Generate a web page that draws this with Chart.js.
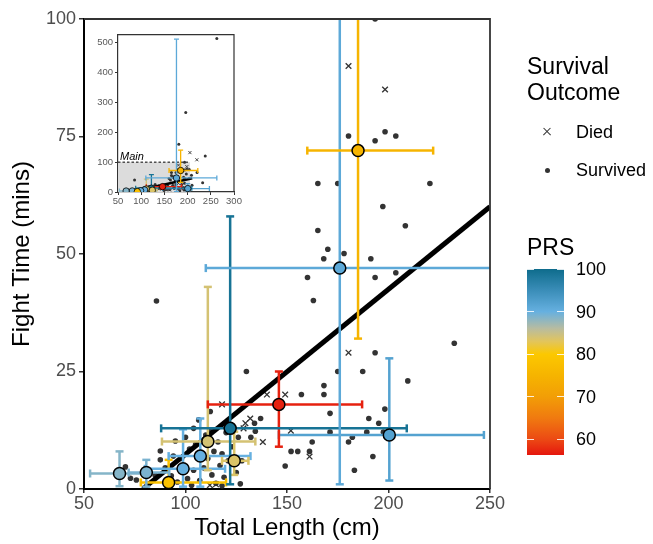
<!DOCTYPE html>
<html lang="en">
<head>
<meta charset="UTF-8">
<title>Fight time vs total length</title>
<script src="https://cdn.jsdelivr.net/npm/chart.js"></script>
<style>
  body { margin: 0; background: #fff; font-family: "Liberation Sans", Arial, sans-serif; }
  #wrap { position: relative; width: 653px; height: 544px; overflow: hidden; }
  #mainChart { position: absolute; left: 0; top: 0; }
  #insetChart { position: absolute; left: 93px; top: 27px; }
  .lg { position: absolute; color: #000; white-space: nowrap; line-height: 1; transform: translateY(-50%); }
  .lg-title { font-size: 23px; left: 527px; }
  .lg-label { font-size: 18px; left: 576px; }
  .key-cross { position: absolute; width: 10px; height: 10px; }
  .key-cross:before, .key-cross:after {
    content: ""; position: absolute; left: 0; top: 4.4px; width: 10px; height: 1.3px; background: #333;
  }
  .key-cross:before { transform: rotate(45deg); }
  .key-cross:after { transform: rotate(-45deg); }
  .key-dot { position: absolute; width: 5px; height: 5px; border-radius: 50%; background: #333; }
  #prsBar { position: absolute; left: 527px; width: 37px; }
  .bar-tick { position: absolute; width: 7px; height: 1px; background: rgba(255,255,255,0.85); }
</style>
</head>
<body>
<div id="wrap">
  <canvas id="mainChart" width="653" height="544"></canvas>
  <canvas id="insetChart" width="152" height="184"></canvas>

  <div class="lg lg-title" style="top:66px">Survival</div>
  <div class="lg lg-title" style="top:92px">Outcome</div>
  <div class="key-cross" style="left:542px; top:127px"></div>
  <div class="lg lg-label" style="top:132px">Died</div>
  <div class="key-dot" style="left:544.5px; top:167.5px"></div>
  <div class="lg lg-label" style="top:170px">Survived</div>
  <div class="lg lg-title" style="top:247px">PRS</div>
  <div id="prsBar"></div>
</div>

<script>
  // individual fish: [total length (cm), fight time (mins)]
  const survivedPts = [
    [193.4, 100], [180.3, 75.1], [193.4, 74.1], [198.3, 76], [203.6, 75.1],
    [165.2, 65], [175, 65], [220.4, 65], [197.2, 60.1], [208.3, 56],
    [165.2, 55], [170.1, 51], [178.1, 50.1], [168.1, 49], [191.3, 49],
    [160.1, 45], [193.4, 45], [203.6, 46], [163, 40.1], [85.7, 40],
    [232.4, 31], [193.4, 29],
    [130, 25], [175, 25], [187.3, 25], [209.5, 23], [168.2, 22], [168.2, 20.1],
    [157.1, 20.1], [198.2, 17], [171.2, 16.1], [190.3, 15], [195.2, 14],
    [137, 15], [134, 14], [134.4, 12.3], [171.2, 12.1], [189.3, 12.1],
    [197.5, 12.1], [182.2, 11], [180.3, 10], [162.4, 10], [132.2, 11],
    [152, 8], [155.3, 8], [161.1, 8], [192.3, 6.9], [183.2, 4], [149.1, 4.9],
    [127.8, 6], [127, 1.1],
    [112.2, 16.5], [104, 12.9], [95, 10.2], [87.6, 8.1], [106.5, 14.7],
    [87.6, 6.2], [70.4, 4.7], [72.9, 2.3], [75.8, 1.9], [112.2, 12.2],
    [90, 4.5], [93, 2.8], [96, 1.5], [98, 6.5], [101, 2.2], [102, 8.5],
    [104, 4], [105, 9.5], [107, 1.8], [109, 4.5], [110, 11.5], [113, 3],
    [114, 8], [115, 1.2], [116, 10], [117, 5], [118, 7.5], [119, 2.5],
    [120, 12], [121, 6], [123, 9], [125, 3.5], [126, 11], [100, 11],
    [94, 7], [85, 3], [111, 6.5], [103, 0.8], [118, 0.7],
    [263, 514], [196, 266], [181, 160], [238, 121]
  ];
  const diedPts = [
    [180.3, 90], [198.3, 85], [180.3, 29], [140.1, 20.1], [149.1, 20.1],
    [131.9, 15], [129.5, 14], [128.6, 12.9], [151.9, 12.4], [138.1, 10],
    [161.1, 6.9], [118, 18], [112, 0.8], [115, 1], [205, 132], [220, 108]
  ];

  // group means with horizontal (length) and vertical (time) error bars
  const groupX   = [185, 176, 122, 146, 200.4, 111, 124, 107.3, 98.8, 80.7, 67.5, 91.7];
  const groupY   = [72, 47, 12.9, 18, 11.5, 10.1, 6, 7, 4.3, 3.5, 3.3, 1.4];
  const groupXLo = [160, 110, 88, 111, 146, 88.4, 118, 91.7, 80, 72, 53, 78];
  const groupXHi = [222, 263, 209, 187, 247, 134.4, 131, 132, 119.5, 92, 79.5, 120];
  const groupYLo = [32, 1, 1, 9, 1.8, 4, 3, 0.5, 0.5, 0.5, 0.6, 0.5];
  const groupYHi = [140, 512, 58, 25, 27.8, 43, 12.2, 15, 12.7, 6.2, 8, 6.2];
  const groupPRS = [75, 91, 99, 57, 92, 84, 83.5, 90, 90, 89, 88.5, 78];

  // linear fit of fight time on length
  const fitIntercept = -27.7;
  const fitSlope = 0.351;
  const mainFitRange = [79, 250];
  const insetFitRange = [79, 210];

  // PRS colour scale
  const prsStopVals = [56.3, 60, 65, 70, 75, 80, 83, 86, 90, 95, 100];
  const prsStopCols = ['#e5170e', '#ec4a14', '#f07a10', '#f29e06', '#f6b400', '#fcc800',
                       '#e2c55c', '#b8bca0', '#66b0e0', '#3a8db8', '#0e6c8c'];
  const legendTicks = [60, 70, 80, 90, 100];

  // inset axis ticks and the region it marks as the main panel
  const insetYTicks = [0, 100, 200, 300, 400, 500];
  const regionX = [50, 205];
  const regionY = [0, 100];

  const FONT = '"Liberation Sans", Arial, sans-serif';

  function hexToRgb(h) {
    const n = parseInt(h.slice(1), 16);
    return [(n >> 16) & 255, (n >> 8) & 255, n & 255];
  }
  function prsColor(v) {
    if (v <= prsStopVals[0]) return prsStopCols[0];
    for (let i = 1; i < prsStopVals.length; i++) {
      if (v <= prsStopVals[i]) {
        const t = (v - prsStopVals[i - 1]) / (prsStopVals[i] - prsStopVals[i - 1]);
        const a = hexToRgb(prsStopCols[i - 1]), b = hexToRgb(prsStopCols[i]);
        const c = a.map((ch, k) => Math.round(ch + (b[k] - ch) * t));
        return 'rgb(' + c.join(',') + ')';
      }
    }
    return prsStopCols[prsStopCols.length - 1];
  }

  function buildDatasets(s) {
    const sets = [];
    sets.push({
      label: 'group means',
      data: groupX.map((x, i) => ({ x: x, y: groupY[i] })),
      pointRadius: s.meanR,
      pointBackgroundColor: groupPRS.map(prsColor),
      pointBorderColor: '#000',
      pointBorderWidth: s.meanBorder,
      order: 0
    });
    groupX.forEach((x, i) => {
      const c = prsColor(groupPRS[i]);
      const bar = {
        showLine: true, borderColor: c, backgroundColor: c, borderWidth: s.barW,
        pointStyle: 'line', pointRadius: s.capR, pointBorderColor: c,
        pointBorderWidth: s.barW, order: 1
      };
      sets.push(Object.assign({}, bar, {
        label: 'length range',
        data: [{ x: groupXLo[i], y: groupY[i] }, { x: groupXHi[i], y: groupY[i] }],
        pointRotation: 90
      }));
      sets.push(Object.assign({}, bar, {
        label: 'time range',
        data: [{ x: x, y: groupYLo[i] }, { x: x, y: groupYHi[i] }],
        pointRotation: 0
      }));
    });
    sets.push({
      label: 'fit',
      data: s.fitRange.map(x => ({ x: x, y: fitIntercept + fitSlope * x })),
      showLine: true, borderColor: '#000', borderWidth: s.fitW, pointRadius: 0, order: 2
    });
    sets.push({
      label: 'Died',
      data: diedPts.map(p => ({ x: p[0], y: p[1] })),
      pointStyle: 'crossRot', pointRadius: s.crossR,
      borderColor: '#333', pointBorderColor: '#333', pointBorderWidth: s.crossW, order: 3
    });
    sets.push({
      label: 'Survived',
      data: survivedPts.map(p => ({ x: p[0], y: p[1] })),
      pointRadius: s.dotR, pointBackgroundColor: '#333', backgroundColor: '#333',
      pointBorderWidth: 0, order: 4
    });
    sets.forEach(d => { d.clip = 0; });
    return sets;
  }

  // top and right edges of the panel box
  const panelFrame = {
    id: 'panelFrame',
    afterDatasetsDraw(chart, args, opts) {
      const { ctx, chartArea: a } = chart;
      ctx.save();
      ctx.strokeStyle = opts.color;
      ctx.lineWidth = opts.width;
      ctx.beginPath();
      ctx.moveTo(a.left, a.top);
      ctx.lineTo(a.right, a.top);
      ctx.lineTo(a.right, a.bottom);
      ctx.stroke();
      ctx.restore();
    }
  };

  const whiteBackground = {
    id: 'whiteBackground',
    beforeDraw(chart) {
      const ctx = chart.ctx;
      ctx.save();
      ctx.fillStyle = '#fff';
      ctx.fillRect(0, 0, chart.width, chart.height);
      ctx.restore();
    }
  };

  // shaded box + dashed line marking the main panel on the inset
  const mainRegion = {
    id: 'mainRegion',
    beforeDatasetsDraw(chart) {
      const { ctx, scales: { x, y } } = chart;
      const x0 = x.getPixelForValue(regionX[0]), x1 = x.getPixelForValue(regionX[1]);
      const y0 = y.getPixelForValue(regionY[0]), y1 = y.getPixelForValue(regionY[1]);
      ctx.save();
      ctx.fillStyle = '#dcdcdc';
      ctx.fillRect(x0, y1, x1 - x0, y0 - y1);
      ctx.setLineDash([2.5, 2]);
      ctx.strokeStyle = '#000';
      ctx.lineWidth = 1;
      ctx.beginPath();
      ctx.moveTo(x0, y1);
      ctx.lineTo(x1, y1);
      ctx.stroke();
      ctx.setLineDash([]);
      ctx.fillStyle = '#000';
      ctx.font = 'italic 11px ' + FONT;
      ctx.textBaseline = 'alphabetic';
      ctx.fillText('Main', x0 + 2, y1 - 2);
      ctx.restore();
    }
  };

  function axis(o) {
    return {
      type: 'linear', min: o.min, max: o.max,
      ticks: { stepSize: o.step, color: o.tickColor, font: { size: o.tickSize, family: FONT }, padding: o.pad },
      grid: { drawOnChartArea: false, tickLength: o.tickLen, color: '#333', lineWidth: o.tickW },
      border: { color: o.borderColor, width: o.borderW },
      title: o.title ? { display: true, text: o.title, color: '#000', font: { size: 24, family: FONT }, padding: o.titlePad } : { display: false },
      afterFit: o.fit
    };
  }

  new Chart(document.getElementById('mainChart'), {
    type: 'scatter',
    data: {
      datasets: buildDatasets({ meanR: 6, meanBorder: 1.5, barW: 2.5, capR: 4, fitW: 5, crossR: 4, crossW: 1.3, dotR: 2.8, fitRange: mainFitRange })
    },
    options: {
      responsive: false,
      animation: false,
      events: [],
      layout: { padding: { top: 19, right: 163, left: 0, bottom: 0 } },
      plugins: { legend: { display: false }, tooltip: { enabled: false }, panelFrame: { color: '#333', width: 1.8 } },
      scales: {
        x: axis({ min: 50, max: 250, step: 50, tickColor: '#4d4d4d', tickSize: 18, pad: 0, tickLen: 4, tickW: 1.5,
                  borderColor: '#000', borderW: 2, title: 'Total Length (cm)', titlePad: { bottom: 1 },
                  fit: s => { s.height = 55; } }),
        y: axis({ min: 0, max: 100, step: 25, tickColor: '#4d4d4d', tickSize: 18, pad: 3, tickLen: 5, tickW: 1.5,
                  borderColor: '#000', borderW: 2, title: 'Fight Time (mins)', titlePad: { top: 8 },
                  fit: s => { s.width = 84; } })
      }
    },
    plugins: [panelFrame]
  });

  const insetY = axis({ min: 0, max: 527, step: 100, tickColor: '#595959', tickSize: 9.5, pad: 2, tickLen: 3, tickW: 1,
                        borderColor: '#333', borderW: 1.2, fit: s => { s.width = 25; } });
  insetY.afterBuildTicks = s => { s.ticks = insetYTicks.map(v => ({ value: v })); };

  new Chart(document.getElementById('insetChart'), {
    type: 'scatter',
    data: {
      datasets: buildDatasets({ meanR: 3.2, meanBorder: 0.8, barW: 1.3, capR: 2.5, fitW: 2.5, crossR: 2.2, crossW: 0.9, dotR: 1.5, fitRange: insetFitRange })
    },
    options: {
      responsive: false,
      animation: false,
      events: [],
      layout: { padding: { top: 6, right: 11, left: 0, bottom: 0 } },
      plugins: { legend: { display: false }, tooltip: { enabled: false }, panelFrame: { color: '#333', width: 1.2 } },
      scales: {
        x: axis({ min: 50, max: 300, step: 50, tickColor: '#595959', tickSize: 9.5, pad: 1, tickLen: 3, tickW: 1,
                  borderColor: '#333', borderW: 1.2, fit: s => { s.height = 19; } }),
        y: insetY
      }
    },
    plugins: [whiteBackground, mainRegion, panelFrame]
  });

  // PRS colour bar legend
  const barTop = 269, pxPerUnit = 4.26;
  const legendMin = prsStopVals[0], legendMax = prsStopVals[prsStopVals.length - 1];
  const bar = document.getElementById('prsBar');
  bar.style.top = barTop + 'px';
  bar.style.height = ((legendMax - legendMin) * pxPerUnit) + 'px';
  bar.style.background = 'linear-gradient(to top, ' + prsStopVals.map((v, i) =>
    prsStopCols[i] + ' ' + ((v - legendMin) / (legendMax - legendMin) * 100).toFixed(1) + '%').join(', ') + ')';
  const wrap = document.getElementById('wrap');
  legendTicks.forEach(v => {
    const y = barTop + (legendMax - v) * pxPerUnit;
    [527, 557].forEach(left => {
      const t = document.createElement('div');
      t.className = 'bar-tick';
      t.style.left = left + 'px';
      t.style.top = (y - 0.5) + 'px';
      wrap.appendChild(t);
    });
    const lab = document.createElement('div');
    lab.className = 'lg lg-label';
    lab.style.top = y + 'px';
    lab.textContent = v;
    wrap.appendChild(lab);
  });
</script>
</body>
</html>
